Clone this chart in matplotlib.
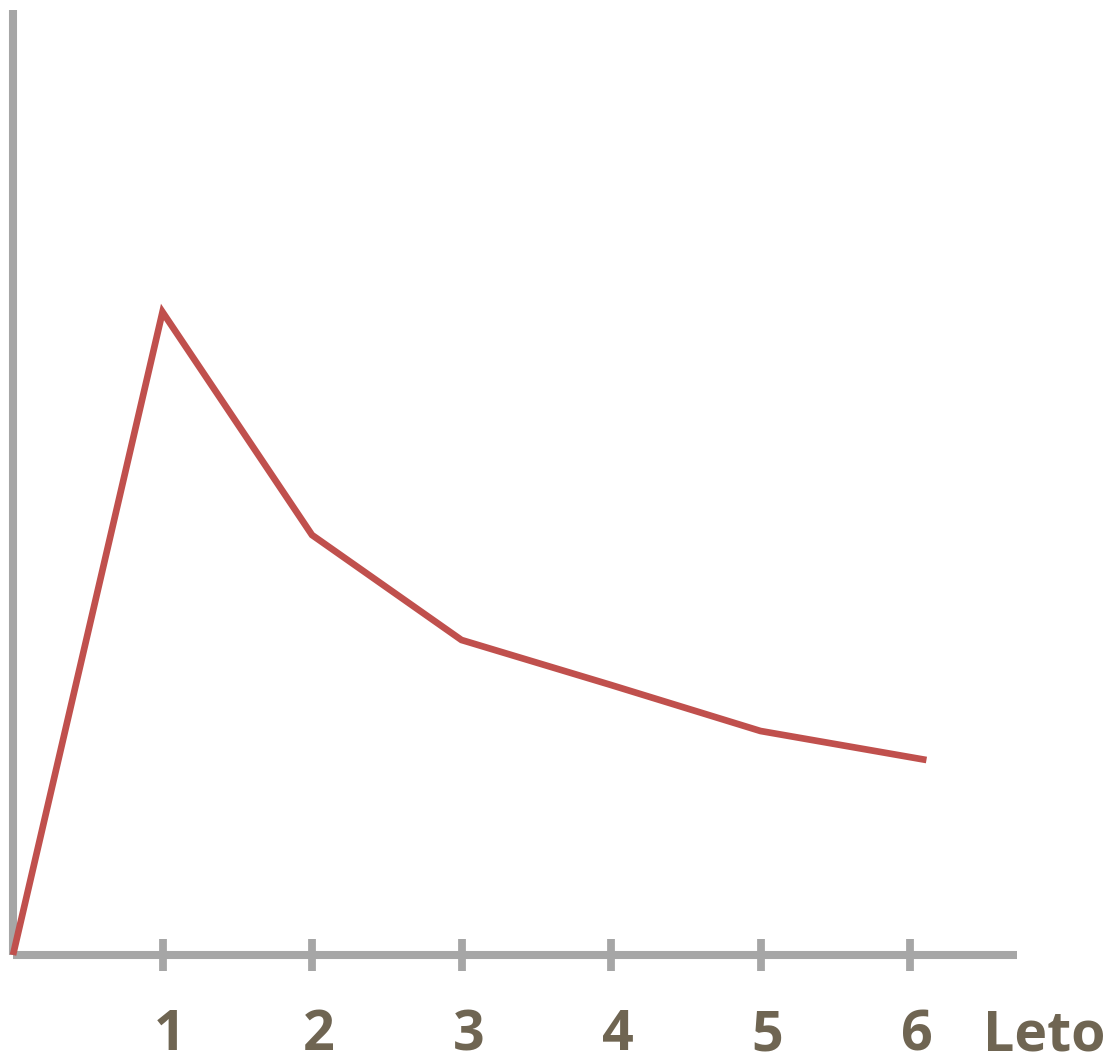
import matplotlib
matplotlib.use("Agg")
import matplotlib.pyplot as plt
import matplotlib.transforms as mtransforms

# Series values
years = [0, 1, 2, 3, 4, 5, 6.11]
values = [0, 64.3, 42.0, 31.5, 27.0, 22.4, 19.5]
tick_positions = [1, 2, 3, 4, 5, 6]
tick_labels = ["1", "2", "3", "4", "5", "6"]
axis_title = "Leto"

W, H = 1109, 1060
fig = plt.figure(figsize=(W / 100, H / 100), dpi=100)
left, right = 13 / W, 1017 / W
bottom, top = (H - 955) / H, (H - 10) / H
ax = fig.add_axes([left, bottom, right - left, top - bottom])

grey = "#a6a6a6"
text_color = "#6f6552"

ax.plot(years, values, color="#c0504d", lw=4.8, solid_joinstyle="miter",
        solid_capstyle="butt", clip_on=False, zorder=3)

ax.set_xlim(0, (1017 - 13) / 149.5)
ax.set_ylim(0, 94.5)

for side in ("top", "right"):
    ax.spines[side].set_visible(False)
for side in ("left", "bottom"):
    ax.spines[side].set_color(grey)
    ax.spines[side].set_linewidth(5.8)
    ax.spines[side].set_capstyle("butt")

ax.set_yticks([])
ax.set_xticks(tick_positions)
ax.set_xticklabels([])
ax.tick_params(axis="x", direction="inout", length=23, width=5.6, color=grey)

# Category labels below the axis
offset = mtransforms.ScaledTranslation(7 / 100, 0, fig.dpi_scale_trans)
trans = mtransforms.blended_transform_factory(ax.transData, ax.transAxes) + offset
label_y = -(1036 - 955) / (955 - 10)
for pos, lab in zip(tick_positions, tick_labels):
    ax.text(pos, label_y, lab, transform=trans, ha="center", va="center",
            fontsize=40, fontweight="bold", family="Open Sans", color=text_color)

ax.text(1105 / W, (H - 1036) / H, axis_title, transform=fig.transFigure,
        ha="right", va="center", fontsize=40, fontweight="bold",
        family="Open Sans", color=text_color)

ax.patch.set_visible(False)
fig.savefig("out.png", dpi=100)
